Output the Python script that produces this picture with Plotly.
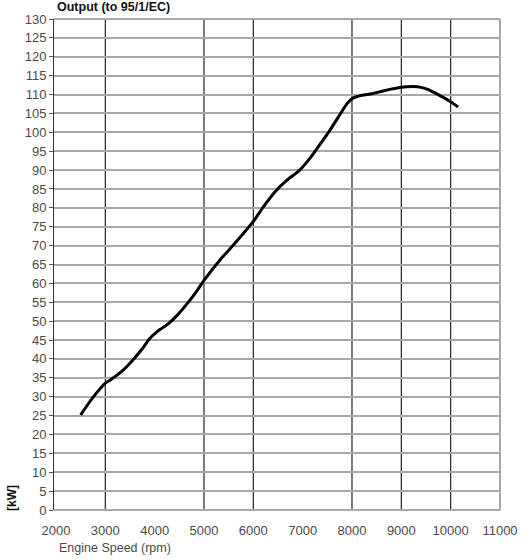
import plotly.graph_objects as go

# Data
rpm = [2500, 2750, 3000, 3100, 3350, 3550, 3750, 3900, 4075, 4275, 4475, 4675,
       4850, 5000, 5350, 5600, 6000, 6200, 6450, 6670, 6940, 7170, 7350, 7535,
       7735, 7900, 8000, 8200, 8400, 8650, 9000, 9250, 9400, 9550, 9700, 10000, 10150]
output_kw = [25.2, 29.8, 33.6, 34.4, 36.9, 39.6, 42.7, 45.4, 47.5, 49.3, 51.8, 54.9,
             57.9, 60.8, 66.6, 70.2, 76.4, 80.2, 84.4, 87.2, 90.0, 93.5, 96.8, 100.2,
             104.3, 107.6, 108.9, 109.8, 110.2, 111.0, 111.9, 112.1, 111.9, 111.3, 110.3, 108.1, 106.7]

x_ticks = [2000, 3000, 4000, 5000, 6000, 7000, 8000, 9000, 10000, 11000]
x_grid = [3000, 5000, 6000, 8000, 9000, 10000]
y_ticks = list(range(0, 131, 5))

title_text = "Output (to 95/1/EC)"
x_title = "Engine Speed (rpm)"
y_title = "[kW]"

FONT = "Liberation Sans, Arial, sans-serif"
TICK_COLOR = "#4a4a4a"
HGRID = "#a8a8a8"
VGRID = "#222222"

fig = go.Figure()
fig.add_trace(go.Scatter(
    x=rpm, y=output_kw, mode="lines",
    line=dict(color="#000000", width=3, shape="spline", smoothing=0.6),
    hoverinfo="skip", showlegend=False,
))

shapes = [
    dict(type="line", xref="x", yref="paper", x0=v, x1=v, y0=0, y1=1,
         line=dict(color=VGRID, width=1.2), layer="below")
    for v in x_grid
]
shapes += [
    dict(type="line", xref="paper", yref="paper", x0=1, x1=1, y0=0, y1=1,
         line=dict(color=HGRID, width=2), layer="below"),
    dict(type="line", xref="paper", yref="paper", x0=0, x1=1, y0=1, y1=1,
         line=dict(color=HGRID, width=2), layer="below"),
    dict(type="line", xref="paper", yref="paper", x0=0, x1=1, y0=0, y1=0,
         line=dict(color=HGRID, width=2), layer="below"),
]

fig.update_layout(
    width=530, height=560,
    margin=dict(l=54, r=23, t=17, b=50),
    paper_bgcolor="white", plot_bgcolor="white",
    font=dict(family=FONT, size=13, color=TICK_COLOR),
    title=dict(text="<b>" + title_text + "</b>", x=57 / 530, xanchor="left",
               y=1 - 6.5 / 560, yanchor="middle",
               font=dict(family=FONT, size=12.5, color="#111111")),
    xaxis=dict(range=[1960, 11000], tickmode="array", tickvals=x_ticks,
               ticktext=[str(v) for v in x_ticks], showgrid=False, zeroline=False,
               showline=False, ticks="", ticklabelstandoff=11,
               tickfont=dict(family=FONT, size=13, color=TICK_COLOR)),
    yaxis=dict(range=[0, 130], tickmode="array", tickvals=y_ticks,
               showgrid=True, gridcolor=HGRID, gridwidth=2, zeroline=False,
               showline=True, linecolor="#333333", linewidth=1,
               ticks="outside", ticklen=4, tickcolor="#555555", tickwidth=1,
               tickfont=dict(family=FONT, size=13, color=TICK_COLOR)),
    shapes=shapes,
    annotations=[
        dict(text=x_title, xref="paper", yref="paper", x=3 / 453, y=0,
             xanchor="left", yanchor="middle", yshift=-38, showarrow=False,
             font=dict(family=FONT, size=12.5, color=TICK_COLOR)),
        dict(text="<b>" + y_title + "</b>", xref="paper", yref="paper", x=0, y=0,
             xanchor="center", yanchor="middle", xshift=-42, yshift=12,
             textangle=-90, showarrow=False,
             font=dict(family=FONT, size=12, color="#111111")),
    ],
)

fig.write_html("out.html", config={"displayModeBar": False},
               post_script="document.body.style.margin='0';")
